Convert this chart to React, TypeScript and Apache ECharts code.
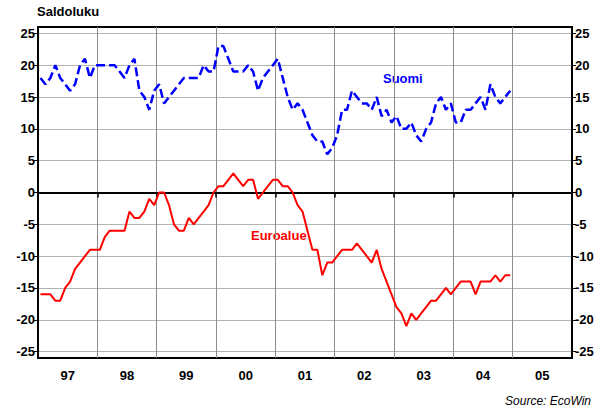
import React, { useEffect, useRef } from "react";
import * as echarts from "echarts";

const years = ["97", "98", "99", "00", "01", "02", "03", "04", "05"];
const yTicks = [-25, -20, -15, -10, -5, 0, 5, 10, 15, 20, 25];

// Monthly values from Jan 1997 to Dec 2004
const suomi = [
  18, 17, 18, 20, 18, 17, 16, 17, 20, 21, 18, 20,
  20, 20, 20, 20, 19, 18, 20, 21, 16, 15, 13, 16,
  17, 14, 15, 16, 17, 18, 18, 18, 18, 20, 19, 19,
  23, 23, 21, 19, 19, 19, 20, 19, 16, 18, 19, 20,
  21, 18, 15, 13, 14, 13, 11, 9, 8, 8, 6, 7,
  9, 13, 13, 16, 15, 14, 14, 13, 15, 12, 13, 11,
  12, 10, 10, 11, 9, 8, 10, 11, 14, 15, 13, 14,
  11, 11, 13, 13, 14, 15, 13, 17, 15, 14, 15, 16,
];
const euroalue = [
  -16, -16, -16, -17, -17, -15, -14, -12, -11, -10, -9, -9,
  -9, -7, -6, -6, -6, -6, -3, -4, -4, -3, -1, -2,
  0, 0, -2, -5, -6, -6, -4, -5, -4, -3, -2, 0,
  1, 1, 2, 3, 2, 1, 2, 2, -1, 0, 1, 2,
  2, 1, 1, 0, -2, -3, -6, -9, -9, -13, -11, -11,
  -10, -9, -9, -9, -8, -9, -10, -11, -9, -12, -14, -16,
  -18, -19, -21, -19, -20, -19, -18, -17, -17, -16, -15, -16,
  -15, -14, -14, -14, -16, -14, -14, -14, -13, -14, -13, -13,
];

const FONT = "'Liberation Sans', Arial, sans-serif";

export default function App() {
  const ref = useRef<HTMLDivElement>(null);
  useEffect(() => {
    if (!ref.current) return;
    const chart = echarts.init(ref.current, null, { renderer: "svg" });
    const toPts = (arr: number[]) => arr.map((v, i) => [i + 0.5, v]);
    const yAxisBase = {
      type: "value" as const,
      min: -26,
      max: 26,
      axisLine: { show: true, lineStyle: { color: "#000", width: 2 } },
      axisTick: { show: true, length: 4, lineStyle: { color: "#000" }, customValues: yTicks },
      axisLabel: {
        color: "#000",
        fontWeight: "bold" as const,
        fontSize: 13,
        fontFamily: FONT,
        margin: 3,
        customValues: yTicks,
      },
    };
    chart.setOption({
      animation: false,
      grid: {
        left: 38,
        right: 41,
        top: 27,
        bottom: 52,
        show: true,
        borderColor: "#000",
        borderWidth: 2,
        backgroundColor: "#fff",
      },
      xAxis: [
        {
          type: "category",
          data: years,
          boundaryGap: true,
          position: "bottom",
          axisLine: { show: true, lineStyle: { color: "#000", width: 2 } },
          axisTick: { show: true, length: 5, lineStyle: { color: "#000", width: 1.5 } },
          axisLabel: {
            color: "#000",
            fontWeight: "bold",
            fontSize: 13,
            fontFamily: FONT,
            margin: 11,
          },
          splitLine: { show: true, lineStyle: { color: "#8c8c8c", width: 1 } },
        },
        { type: "value", min: 0, max: 108, show: false },
      ],
      yAxis: [
        {
          ...yAxisBase,
          position: "left",
          splitLine: { show: true, lineStyle: { color: "#b4b4b4", width: 1 } },
        },
        { ...yAxisBase, position: "right", splitLine: { show: false } },
      ],
      series: [
        {
          name: "Suomi",
          type: "line",
          xAxisIndex: 1,
          yAxisIndex: 0,
          data: toPts(suomi),
          showSymbol: false,
          lineStyle: { color: "#0000ff", width: 2.5, type: [9, 4] },
          z: 5,
          markLine: {
            silent: true,
            symbol: "none",
            label: { show: false },
            lineStyle: { color: "#000", width: 2, type: "solid" },
            data: [{ yAxis: 0 }],
            z: 3,
          },
        },
        {
          name: "Euroalue",
          type: "line",
          xAxisIndex: 1,
          yAxisIndex: 0,
          data: toPts(euroalue),
          showSymbol: false,
          lineStyle: { color: "#ff0000", width: 2 },
          z: 5,
        },
      ],
      graphic: [
        {
          type: "text",
          left: 37,
          top: 5,
          style: { text: "Saldoluku", fill: "#000", font: `bold 13px ${FONT}` },
        },
        {
          type: "text",
          left: 383,
          top: 72,
          style: { text: "Suomi", fill: "#0000ff", font: `bold 13px ${FONT}` },
        },
        {
          type: "text",
          left: 251,
          top: 229,
          style: { text: "Euroalue", fill: "#ff0000", font: `bold 13px ${FONT}` },
        },
        {
          type: "text",
          right: 22,
          top: 395,
          style: { text: "Source: EcoWin", fill: "#000", font: `italic 12px ${FONT}` },
        },
      ],
    });
    return () => chart.dispose();
  }, []);
  return <div ref={ref} style={{ width: 613, height: 410, position: "absolute", left: 0, top: 0 }} />;
}
